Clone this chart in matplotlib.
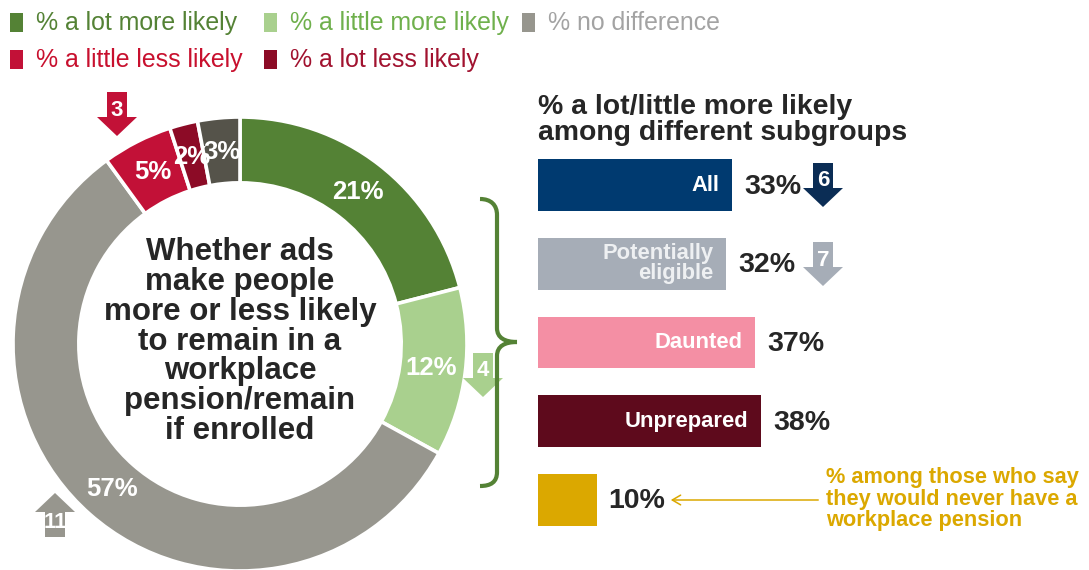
import matplotlib
matplotlib.use("Agg")
import matplotlib.pyplot as plt
from matplotlib.patches import Polygon, PathPatch, Rectangle
from matplotlib.path import Path

plt.rcParams['font.family'] = ['Liberation Sans', 'DejaVu Sans']

# donut: share saying ads make them more/less likely to stay enrolled
segments = ['% a lot more likely', '% a little more likely', '% no difference',
            '% a little less likely', '% a lot less likely', 'don\'t know']
shares = [21, 12, 57, 5, 2, 3]
seg_colors = ['#548235', '#A9D08E', '#97968E', '#C21137', '#8C0B26', '#55534A']
legend_colors = ['#548235', '#6FB04C', '#A3A3A3', '#C8102E', '#A1122F']

# change vs previous wave (arrow value, direction)
donut_changes = {1: (4, 'down'), 2: (11, 'up'), 3: (3, 'down')}

# subgroup bars
groups = ['All', 'Potentially\neligible', 'Daunted', 'Unprepared', '']
group_pct = [33, 32, 37, 38, 10]
group_colors = ['#003A70', '#A6ADB7', '#F48FA4', '#5E0A1C', '#DBA800']
group_label_colors = ['white', '#EEF0F2', 'white', 'white', 'white']
group_changes = [6, 7, None, None, None]
change_colors = ['#0B2D55', '#A6ADB7']

dark = '#262626'
gold = '#DBA800'

fig = plt.figure(figsize=(10.89, 5.70), dpi=100)

# ---- donut ----
ax_pie = fig.add_axes([13 / 1089, -1 / 570, 454 / 1089, 454 / 570])
wedges, _, autotexts = ax_pie.pie(
    shares, startangle=90, counterclock=False, radius=1,
    colors=seg_colors, autopct='%d%%', pctdistance=0.85,
    wedgeprops=dict(width=0.29, edgecolor='white', linewidth=2.6),
    textprops=dict(color='white', fontsize=18.5, fontweight='bold'))
ax_pie.set_xlim(-1, 1)
ax_pie.set_ylim(-1, 1)
ax_pie.axis('off')
ax_pie.text(0, 0.01, 'Whether ads\nmake people\nmore or less likely\nto remain in a\nworkplace\npension/remain\nif enrolled',
            ha='center', va='center', fontsize=22.5, fontweight='bold',
            color=dark, linespacing=0.99)

# ---- subgroup bars ----
ax_bar = fig.add_axes([538 / 1089, 23 / 570, 551 / 1089, 409 / 570])
ypos = range(len(groups))
ax_bar.barh(ypos, group_pct, height=0.66, color=group_colors)
ax_bar.set_xlim(0, 551 / 5.87)
ax_bar.set_ylim(4.6, -0.6)
ax_bar.axis('off')
for i, (g, v) in enumerate(zip(groups, group_pct)):
    if g:
        ax_bar.annotate(g, (v, i), xytext=(-9, 0), textcoords='offset points',
                        ha='right', va='center', fontsize=15.8, fontweight='bold',
                        color=group_label_colors[i], linespacing=0.95)
    ax_bar.annotate(f'{v}%', (v, i), xytext=(9 if g else 8, -1), textcoords='offset points',
                    ha='left', va='center', fontsize=20.5, fontweight='bold', color=dark)

# ---- overlay in pixel coordinates ----
ov = fig.add_axes([0, 0, 1, 1])
ov.set_xlim(0, 1089)
ov.set_ylim(570, 0)
ov.axis('off')
ov.patch.set_alpha(0)


def block_arrow(x, top, color, num, up=False):
    sw, hw, sh, hh = 10, 20, 25, 19
    if up:
        pts = [(x, top), (x + hw, top + hh), (x + sw, top + hh), (x + sw, top + hh + sh),
               (x - sw, top + hh + sh), (x - sw, top + hh), (x - hw, top + hh)]
        ty = top + 29
    else:
        pts = [(x - sw, top), (x + sw, top), (x + sw, top + sh), (x + hw, top + sh),
               (x, top + sh + hh), (x - hw, top + sh), (x - sw, top + sh)]
        ty = top + 18
    ov.add_patch(Polygon(pts, closed=True, color=color, lw=0))
    ov.text(x, ty, str(num), ha='center', va='center', color='white',
            fontsize=16, fontweight='bold')


block_arrow(117, 92, seg_colors[3], donut_changes[3][0])
block_arrow(483, 353, seg_colors[1], donut_changes[1][0])
block_arrow(55, 493, seg_colors[2], donut_changes[2][0], up=True)
for i, ch in enumerate(group_changes):
    if ch is not None:
        block_arrow(823, 163 + 79 * i, change_colors[i], ch)

# brace grouping the "more likely" segments
verts = [(480, 199), (491, 199), (497, 205), (497, 215),
         (497, 328),
         (497, 338), (505, 342), (517, 342),
         (505, 342), (497, 346), (497, 356),
         (497, 472),
         (497, 482), (491, 486), (480, 486)]
codes = [Path.MOVETO, Path.CURVE4, Path.CURVE4, Path.CURVE4,
         Path.LINETO,
         Path.CURVE4, Path.CURVE4, Path.CURVE4,
         Path.CURVE4, Path.CURVE4, Path.CURVE4,
         Path.LINETO,
         Path.CURVE4, Path.CURVE4, Path.CURVE4]
ov.add_patch(PathPatch(Path(verts, codes), fill=False, edgecolor='#548235',
                       lw=3, capstyle='butt'))

# subgroup title
ov.text(538, 120, '% a lot/little more likely\namong different subgroups',
        ha='left', va='center', fontsize=20.4, fontweight='bold', color=dark,
        linespacing=0.97)

# note on the small bar
ov.text(826, 499, '% among those who say\nthey would never have a\nworkplace pension',
        ha='left', va='center', fontsize=15.7, fontweight='bold', color=gold,
        linespacing=1.02)
ov.annotate('', xy=(668, 500), xytext=(821, 500),
            arrowprops=dict(arrowstyle='->,head_length=0.6,head_width=0.35',
                            color=gold, lw=1.1))

# legend
legend_pos = [(10, 22), (264, 22), (522, 22), (10, 59), (264, 59)]
for (x, y), lab, sq, tc in zip(legend_pos, segments, seg_colors, legend_colors):
    ov.add_patch(Rectangle((x, y - 9), 13, 19, color=sq, lw=0))
    ov.text(x + 26, y + 1, lab, ha='left', va='center', fontsize=17.9, color=tc)

fig.savefig('out.png', dpi=100)
